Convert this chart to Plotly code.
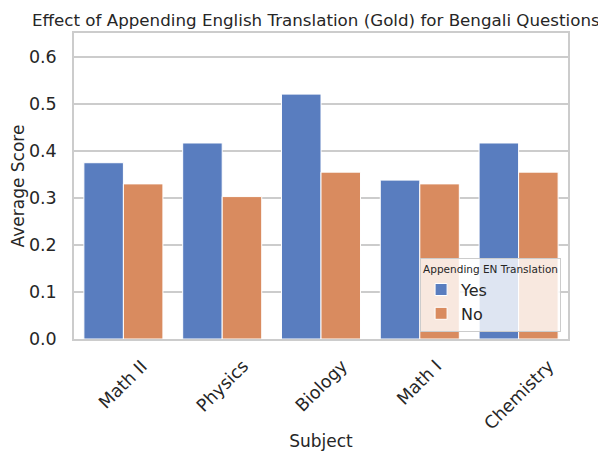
import plotly.graph_objects as go

subjects = ["Math II", "Physics", "Biology", "Math I", "Chemistry"]
yes_scores = [0.375, 0.417, 0.521, 0.338, 0.417]
no_scores = [0.330, 0.303, 0.355, 0.330, 0.355]
y_ticks = [0.0, 0.1, 0.2, 0.3, 0.4, 0.5, 0.6]

FONT = "DejaVu Sans"
TXT = "#262626"

fig = go.Figure()
fig.add_trace(go.Bar(x=subjects, y=yes_scores, name="Yes",
                     marker=dict(color="#597dbf", line=dict(color="white", width=1))))
fig.add_trace(go.Bar(x=subjects, y=no_scores, name="No",
                     marker=dict(color="#d98b5f", line=dict(color="white", width=1))))

# rotated category labels centred under each group, like matplotlib's rotation=45
for s in subjects:
    fig.add_annotation(x=s, xref="x", y=0, yref="paper", yshift=-14,
                       text=s, textangle=-45, showarrow=False,
                       xanchor="center", yanchor="top",
                       font=dict(size=17.5, color=TXT))

fig.update_layout(
    width=606, height=451,
    margin=dict(l=66, r=46, t=25, b=120),
    paper_bgcolor="white", plot_bgcolor="white",
    font=dict(family=FONT, color=TXT),
    barmode="group", bargap=0.2, bargroupgap=0,
    title=dict(text="Effect of Appending English Translation (Gold) for Bengali Questions",
               x=0.508, xanchor="center", y=0.973, yanchor="middle",
               font=dict(size=16.7, color=TXT)),
    legend=dict(
        title=dict(text="Appending EN Translation", font=dict(size=10.5), side="top"),
        x=0.986, xanchor="right", y=0.023, yanchor="bottom",
        bgcolor="rgba(255,255,255,0.8)", bordercolor="#cccccc", borderwidth=1,
        font=dict(size=16), itemwidth=30,
    ),
)
fig.update_xaxes(
    title=dict(text="Subject", font=dict(size=17), standoff=95),
    showticklabels=False, automargin=False,
    showgrid=False, showline=True, linecolor="#cccccc", linewidth=1.5, mirror=True,
)
fig.update_yaxes(
    title=dict(text="Average Score", font=dict(size=17), standoff=5),
    range=[0, 0.651], tickvals=y_ticks, tickformat=".1f", tickfont=dict(size=17.5),
    ticklabelstandoff=12, automargin=False,
    showgrid=True, gridcolor="#cccccc", gridwidth=1.5,
    showline=True, linecolor="#cccccc", linewidth=1.5, mirror=True,
    zeroline=False,
)

fig.write_html("out.html")
